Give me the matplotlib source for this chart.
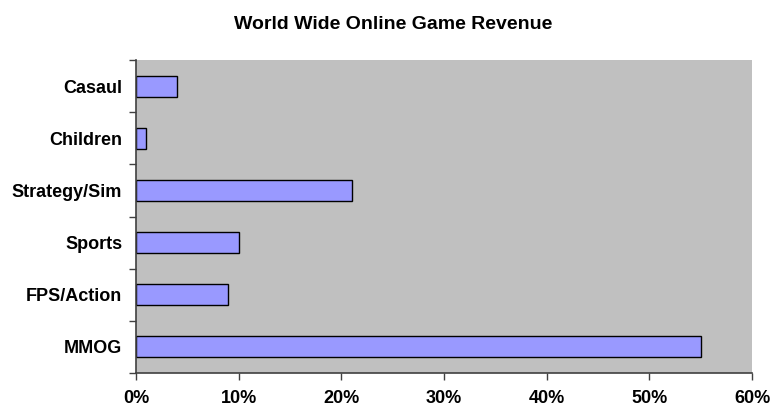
import numpy as np
import matplotlib.pyplot as plt
from matplotlib.ticker import FuncFormatter

# revenue share by genre (top to bottom as shown)
genres = ['Casaul', 'Children', 'Strategy/Sim', 'Sports', 'FPS/Action', 'MMOG']
share = [0.04, 0.01, 0.21, 0.10, 0.09, 0.55]
xticks = [0, 0.1, 0.2, 0.3, 0.4, 0.5, 0.6]

plt.rcParams['font.family'] = ['Liberation Sans', 'DejaVu Sans']

fig = plt.figure(figsize=(7.71, 4.09), dpi=100)
ax = fig.add_axes([0.1764, 0.0880, 0.7990, 0.7653])
ax.set_facecolor('#C0C0C0')

pos = np.arange(len(genres))
ax.barh(pos, share, height=0.4, color='#9999FF', edgecolor='black', linewidth=1.0)

ax.set_ylim(len(genres) - 0.5, -0.5)
ax.set_xlim(0, 0.6)

# labels at category centres, tick marks on the boundaries
ax.set_yticks(pos)
ax.set_yticklabels(genres, fontsize=13, fontweight='bold')
ax.set_yticks(np.arange(-0.5, len(genres)), minor=True)
ax.tick_params(axis='y', which='major', length=0, pad=10)
ax.tick_params(axis='y', which='minor', length=5, width=1, color='#404040', direction='out')

ax.set_xticks(xticks)
ax.xaxis.set_major_formatter(FuncFormatter(lambda v, p: f'{v * 100:.0f}%'))
for lab in ax.get_xticklabels():
    lab.set_fontweight('bold')
    lab.set_fontsize(13)
ax.tick_params(axis='x', length=5, width=1, color='#404040', direction='out', pad=7)

for s in ['top', 'right']:
    ax.spines[s].set_visible(False)
for s in ['left', 'bottom']:
    ax.spines[s].set_color('#404040')
    ax.spines[s].set_linewidth(1.2)

fig.suptitle('World Wide Online Game Revenue', x=0.51, y=0.96, fontsize=14, fontweight='bold')

fig.savefig('out.png', dpi=100)
